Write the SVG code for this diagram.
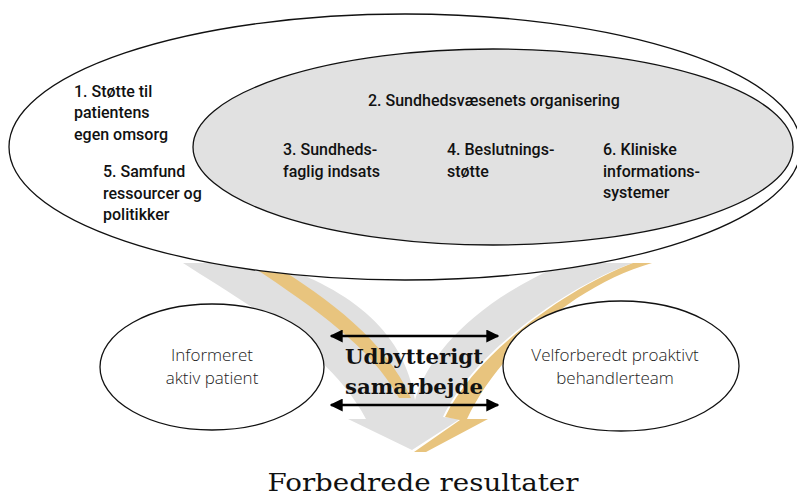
<svg xmlns="http://www.w3.org/2000/svg" width="797" height="498" viewBox="0 0 797 498">
<defs>
<style>
.ell{fill:#fff;stroke:#111;stroke-width:1.3}
.inner{fill:#e1e1e1;stroke:#111;stroke-width:1.3}
.lbl{font-family:Roboto,"Open Sans",sans-serif;font-weight:500;font-size:16px;fill:#111}
.thin{font-family:"Open Sans",Lato,sans-serif;font-weight:300;font-size:17px;fill:#222;text-anchor:middle}
.slab{font-family:"DejaVu Serif",serif;fill:#111;text-anchor:middle}
.gray{fill:#e0e0e0}
.orange{fill:#e8c47e}
.arr{stroke:#000;stroke-width:2.6;fill:none}
</style>
<marker id="ah" viewBox="0 0 10 10" refX="9" refY="5" markerWidth="5" markerHeight="5" orient="auto-start-reverse" markerUnits="strokeWidth">
<path d="M0,0 L10,5 L0,10 Z" fill="#000"/>
</marker>
</defs>
<rect width="797" height="498" fill="#fff"/>
<g id="v-shape">
<path class="gray" d="M183,263 L270,263 C355,290 405,335 415,400 C430,350 480,300 565,263 L633,263 C570,285 475,350 443,417 L460,419 L412,450 L348,419 L366,419 C330,350 240,300 183,263 Z"/>
<path class="orange" d="M247,263 L271,263 C330,300 385,340 411,398 L399,398 C370,345 310,305 247,263 Z"/>
<path class="orange" d="M633,263 L652,263 C582,283 502,345 467,419 L488,419 L426,452 L414,452 L460,420 L445,417 C478,350 572,286 633,263 Z"/>
</g>
<g id="community">
<ellipse class="ell" cx="405" cy="147" rx="396" ry="133"/>
<text class="lbl" x="74" y="97">1. Støtte til</text>
<text class="lbl" x="74" y="118">patientens</text>
<text class="lbl" x="74" y="140">egen omsorg</text>
<text class="lbl" x="103" y="177">5. Samfund</text>
<text class="lbl" x="103" y="199">ressourcer og</text>
<text class="lbl" x="103" y="220">politikker</text>
</g>
<g id="health-system">
<ellipse class="inner" cx="493" cy="147" rx="300" ry="98"/>
<text class="lbl" x="368" y="106">2. Sundhedsvæsenets organisering</text>
<text class="lbl" x="283" y="155">3. Sundheds-</text>
<text class="lbl" x="283" y="177">faglig indsats</text>
<text class="lbl" x="447" y="155">4. Beslutnings-</text>
<text class="lbl" x="447" y="177">støtte</text>
<text class="lbl" x="603" y="155">6. Kliniske</text>
<text class="lbl" x="603" y="177">informations-</text>
<text class="lbl" x="603" y="198">systemer</text>
</g>
<g id="patient">
<ellipse class="ell" cx="212" cy="367" rx="112" ry="63"/>
<text class="thin" x="212" y="361">Informeret</text>
<text class="thin" x="212" y="384">aktiv patient</text>
</g>
<g id="team">
<ellipse class="ell" cx="621" cy="366" rx="118" ry="65"/>
<text class="thin" x="615" y="361">Velforberedt proaktivt</text>
<text class="thin" x="615" y="384">behandlerteam</text>
</g>
<g id="connectors">
<line class="arr" x1="331" y1="336" x2="498" y2="336" marker-start="url(#ah)" marker-end="url(#ah)"/>
<line class="arr" x1="331" y1="405" x2="498" y2="405" marker-start="url(#ah)" marker-end="url(#ah)"/>
</g>
<g id="interaction">
<text class="slab" x="414" y="364" font-size="21" font-weight="bold" textLength="138" lengthAdjust="spacingAndGlyphs">Udbytterigt</text>
<text class="slab" x="414" y="394" font-size="21" font-weight="bold" textLength="138" lengthAdjust="spacingAndGlyphs">samarbejde</text>
</g>
<g id="outcome">
<text class="slab" x="423" y="491" font-size="24" textLength="311" lengthAdjust="spacingAndGlyphs">Forbedrede resultater</text>
</g>
</svg>
